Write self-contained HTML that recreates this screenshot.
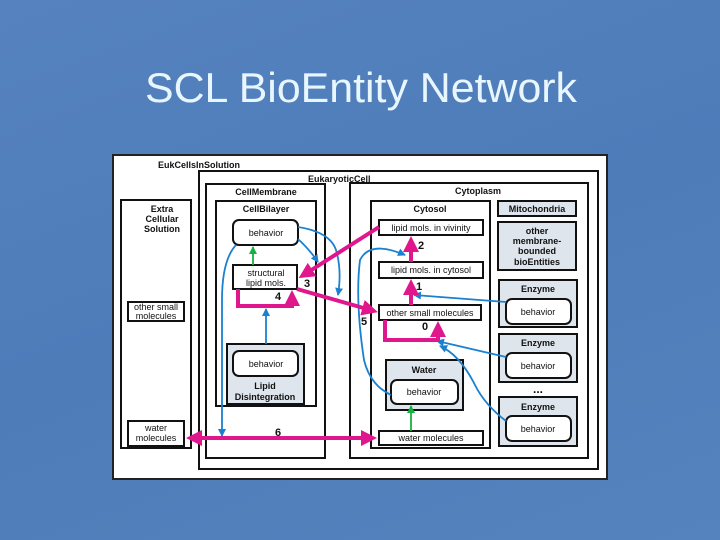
<!DOCTYPE html>
<html><head><meta charset="utf-8"><style>
html,body{margin:0;padding:0;}
body{width:720px;height:540px;overflow:hidden;background:linear-gradient(160deg,#5683bf 0%,#4d7cb9 50%,#5583bd 100%);}
svg{display:block}
text{font-family:"Liberation Sans",sans-serif;}
</style></head><body>
<svg width="720" height="540" viewBox="0 0 720 540" xmlns="http://www.w3.org/2000/svg">
<defs>
<marker id="pm" markerWidth="4" markerHeight="4" refX="3" refY="2" orient="auto" markerUnits="strokeWidth"><path d="M0,0 L4,2 L0,4 z" fill="#e0168c"/></marker>
<marker id="pmr" markerWidth="4" markerHeight="4" refX="1" refY="2" orient="auto" markerUnits="strokeWidth"><path d="M4,0 L0,2 L4,4 z" fill="#e0168c"/></marker>
<marker id="bm" markerWidth="8" markerHeight="8" refX="7" refY="4" orient="auto" markerUnits="userSpaceOnUse"><path d="M0,0 L8,4 L0,8 z" fill="#1a80d0"/></marker>
<marker id="gm" markerWidth="8" markerHeight="8" refX="7" refY="4" orient="auto" markerUnits="userSpaceOnUse"><path d="M0,0 L8,4 L0,8 z" fill="#18b040"/></marker>
</defs>
<text x="361" y="102" text-anchor="middle" font-size="42" fill="#e8f6ff" textLength="432" lengthAdjust="spacingAndGlyphs">SCL BioEntity Network</text>

<rect x="113" y="155" width="494" height="324" fill="#fff" stroke="#222" stroke-width="2"/>
<g fill="none" stroke="#111" stroke-width="2">
<rect x="199" y="171" width="399" height="298"/>
<rect x="206" y="184" width="119" height="274"/>
<rect x="216" y="201" width="100" height="205"/>
<rect x="350" y="183" width="238" height="275"/>
<rect x="371" y="201" width="119" height="247"/>
<rect x="121" y="200" width="70" height="248"/>
</g>
<g stroke="#111" stroke-width="2" fill="#dfe5ec">
<rect x="227" y="344" width="77" height="60"/>
<rect x="386" y="360" width="77" height="50"/>
<rect x="498" y="201" width="78" height="15"/>
<rect x="498" y="222" width="78" height="48"/>
<rect x="499" y="280" width="78" height="47"/>
<rect x="499" y="334" width="78" height="48"/>
<rect x="499" y="397" width="78" height="49"/>
</g>
<g stroke="#111" stroke-width="2" fill="#fff">
<rect x="128" y="302" width="56" height="19"/>
<rect x="128" y="421" width="56" height="25"/>
<rect x="233" y="220" width="65" height="25" rx="6"/>
<rect x="233" y="265" width="64" height="24"/>
<rect x="233" y="351" width="65" height="25" rx="6"/>
<rect x="379" y="220" width="104" height="15"/>
<rect x="379" y="262" width="104" height="16"/>
<rect x="379" y="305" width="102" height="15"/>
<rect x="391" y="380" width="67" height="24" rx="6"/>
<rect x="379" y="431" width="104" height="14"/>
<rect x="506" y="299" width="65" height="25" rx="6"/>
<rect x="506" y="353" width="65" height="25" rx="6"/>
<rect x="506" y="416" width="65" height="25" rx="6"/>
</g>
<g font-size="9" fill="#111" font-weight="bold">
<text x="158" y="168">EukCellsInSolution</text>
<text x="308" y="182">EukaryoticCell</text>
<text x="266" y="195" text-anchor="middle">CellMembrane</text>
<text x="266" y="212" text-anchor="middle">CellBilayer</text>
<text x="478" y="194" text-anchor="middle">Cytoplasm</text>
<text x="430" y="212" text-anchor="middle">Cytosol</text>
<text x="162" y="212" text-anchor="middle">Extra</text>
<text x="162" y="222" text-anchor="middle">Cellular</text>
<text x="162" y="232" text-anchor="middle">Solution</text>
<text x="265" y="389" text-anchor="middle">Lipid</text>
<text x="265" y="400" text-anchor="middle">Disintegration</text>
<text x="424" y="373" text-anchor="middle">Water</text>
<text x="537" y="212" text-anchor="middle">Mitochondria</text>
<text x="537" y="234" text-anchor="middle">other</text>
<text x="537" y="244" text-anchor="middle">membrane-</text>
<text x="537" y="254" text-anchor="middle">bounded</text>
<text x="537" y="265" text-anchor="middle">bioEntities</text>
<text x="538" y="292" text-anchor="middle">Enzyme</text>
<text x="538" y="346" text-anchor="middle">Enzyme</text>
<text x="538" y="410" text-anchor="middle">Enzyme</text>
<text x="538" y="393" text-anchor="middle" font-size="12">...</text>
</g>
<g font-size="9" fill="#111" text-anchor="middle">
<text x="156" y="310">other small</text>
<text x="156" y="319">molecules</text>
<text x="156" y="431">water</text>
<text x="156" y="441">molecules</text>
<text x="266" y="236">behavior</text>
<text x="266" y="276">structural</text>
<text x="266" y="286">lipid mols.</text>
<text x="266" y="367">behavior</text>
<text x="431" y="231">lipid mols. in vivinity</text>
<text x="431" y="273">lipid mols. in cytosol</text>
<text x="430" y="316">other small molecules</text>
<text x="424" y="395">behavior</text>
<text x="431" y="441">water molecules</text>
<text x="538" y="315">behavior</text>
<text x="538" y="369">behavior</text>
<text x="538" y="432">behavior</text>
</g>
<g font-size="11" font-weight="bold" fill="#111">
<text x="304" y="287">3</text>
<text x="275" y="300">4</text>
<text x="361" y="325">5</text>
<text x="275" y="436">6</text>
<text x="418" y="249">2</text>
<text x="416" y="290">1</text>
<text x="422" y="330">0</text>
</g>
<g fill="none" stroke="#1a80d0" stroke-width="1.8">
<path d="M298,239 Q310,250 318,262" marker-end="url(#bm)"/>
<path d="M298,227 Q330,232 336,250 Q342,270 338,295" marker-end="url(#bm)"/>
<path d="M236,245 Q222,260 222,300 L222,436" marker-end="url(#bm)"/>
<path d="M266,344 L266,309" marker-end="url(#bm)"/>
<path d="M391,395 Q370,385 364,360 Q355,300 360,260 Q370,240 405,255" marker-end="url(#bm)"/>
<path d="M506,302 L414,295" marker-end="url(#bm)"/>
<path d="M506,357 L437,341" marker-end="url(#bm)"/>
<path d="M506,421 Q485,405 475,385 Q460,355 440,346" marker-end="url(#bm)"/>
</g>
<g stroke="#18b040" stroke-width="1.8">
<path d="M253,265 L253,247" marker-end="url(#gm)"/>
<path d="M411,431 L411,406" marker-end="url(#gm)"/>
</g>
<g fill="none" stroke="#e0168c" stroke-width="4">
<path d="M379,227 L302,276" marker-end="url(#pm)"/>
<path d="M411,262 L411,240" marker-end="url(#pm)"/>
<path d="M411,305 L411,283" marker-end="url(#pm)"/>
<path d="M385,320 L385,340 L438,340 L438,325" marker-end="url(#pm)"/>
<path d="M238,289 L238,306 L292,306 L292,294" marker-end="url(#pm)"/>
<path d="M297,289 L374,311" marker-end="url(#pm)"/>
<path d="M190,438 L373,438" marker-start="url(#pmr)" marker-end="url(#pm)"/>
</g>
</svg>
</body></html>
